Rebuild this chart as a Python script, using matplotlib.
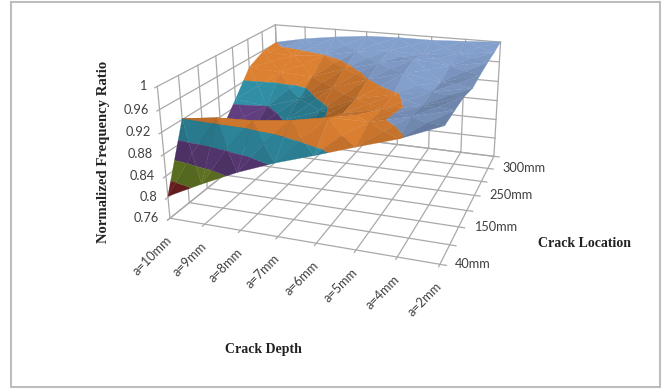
import numpy as np
import matplotlib
matplotlib.use("Agg")
from matplotlib import pyplot as plt
from matplotlib.colors import to_rgb
from matplotlib.patches import Rectangle
from mpl_toolkits.mplot3d import proj3d
from mpl_toolkits.mplot3d.art3d import Poly3DCollection

W, H = 667, 392

depths = ["a=10mm", "a=9mm", "a=8mm", "a=7mm", "a=6mm", "a=5mm", "a=4mm", "a=2mm"]
locations = ["40mm", "", "150mm", "", "250mm", "", "300mm", ""]
z_ticks = [0.76, 0.8, 0.84, 0.88, 0.92, 0.96, 1]
z_labels = ["0.76", "0.8", "0.84", "0.88", "0.92", "0.96", "1"]

# one row per crack location, front to back, columns a=10mm ... a=2mm
row0 = [0.802, 0.835, 0.866, 0.892, 0.914, 0.937, 0.959, 0.988]
row1 = [0.922, 0.931, 0.934, 0.942, 0.955, 0.955, 0.972, 0.990]
row2 = [0.840, 0.850, 0.870, 0.905, 0.940, 0.955, 0.968, 0.991]
row3 = [0.850, 0.862, 0.890, 0.915, 0.945, 0.960, 0.972, 0.985]
row4 = [0.895, 0.888, 0.910, 0.940, 0.962, 0.980, 0.970, 0.990]
row5 = [0.942, 0.938, 0.935, 0.958, 0.975, 0.988, 0.982, 0.994]
row6 = [0.958, 0.955, 0.962, 0.975, 0.983, 0.980, 0.988, 0.996]
row7 = [0.962, 0.975, 0.984, 0.991, 0.993, 0.993, 0.996, 1.000]

band_edges = [0.76, 0.825, 0.857, 0.888, 0.922, 0.962, 1.05]
band_colors = ["#7c2424", "#6c8428", "#5e3c7c", "#2f8aa0", "#d67c30", "#7f9ac6"]

fig = plt.figure(figsize=(W / 100, H / 100), dpi=100)
ax = fig.add_axes([0.2294, 0.1923, 0.5587, 0.9506], projection="3d")
ax.set_xlim(0, 7)
ax.set_ylim(0, 7)
ax.set_zlim(0.76, 1)
ax.view_init(20.294, -69.584, 0.658)
ax.set_proj_type("persp", focal_length=0.399)
ax.set_box_aspect((1.516, 1.449, 0.758))
ax.set_axis_off()
ax.patch.set_alpha(0)
ax.computed_zorder = False
M = ax.get_proj()


def label(x, y, z, s, dx, dy, **kw):
    px, py, _ = proj3d.proj_transform(x, y, z, M)
    ax.annotate(s, xy=(px, py), xytext=(dx * 0.72, dy * 0.72), textcoords="offset points",
                annotation_clip=False, family="Lato", fontsize=9.2, color="#404040", **kw)


# grid
grid = dict(color="#a9a9a9", lw=0.9, zorder=1)
for i in range(8):
    ax.plot([i, i], [-0.12, 7], [0.76, 0.76], **grid)
    ax.plot([0, 7.15], [i, i], [0.76, 0.76], **grid)
    ax.plot([0, 0], [i, i], [0.76, 1], **grid)
    ax.plot([i, i], [7, 7], [0.76, 1], **grid)
    label(i, 0, 0.76, depths[i], 0, -20, rotation=45, ha="right", va="center", rotation_mode="anchor")
    if locations[i]:
        label(7, i, 0.76, locations[i], 15, 0, ha="left", va="center")
for z, lab in zip(z_ticks, z_labels):
    ax.plot([0, 0], [-0.12, 7], [z, z], **grid)
    ax.plot([0, 7], [7, 7], [z, z], **grid)
    label(0, 0, z, lab, -11, 0, ha="right", va="center")

# surface, split into colour bands
Z = np.array([row0, row1, row2, row3, row4, row5, row6, row7])


def clip(poly, lo, hi):
    out = poly
    for sign, lim in ((1, lo), (-1, hi)):
        res = []
        for i in range(len(out)):
            p, q = out[i], out[(i + 1) % len(out)]
            dp, dq = sign * (p[2] - lim), sign * (q[2] - lim)
            if dp >= 0:
                res.append(p)
            if dp * dq < 0:
                res.append(p + (q - p) * dp / (dp - dq))
        out = res
        if not out:
            return []
    return out


light = np.array([0.5, -0.3, 0.81])
polys, colors = [], []
for r in range(7):
    for c in range(7):
        corners = [np.array([cc, rr, Z[rr, cc]]) for cc, rr in
                   ((c, r), (c + 1, r), (c + 1, r + 1), (c, r + 1))]
        mid = np.mean(corners, axis=0)
        for j in range(4):
            tri = (corners[j], corners[(j + 1) % 4], mid)
            n = np.cross((tri[1] - tri[0]) * [1, 1, 22], (tri[2] - tri[0]) * [1, 1, 22])
            n = n / np.linalg.norm(n)
            shade = np.clip(0.44 + 0.8 * n @ light, 0.76, 1.03)
            for k, col in enumerate(band_colors):
                part = clip(list(tri), band_edges[k], band_edges[k + 1])
                if len(part) >= 3:
                    polys.append(part)
                    colors.append(np.clip(np.array(to_rgb(col)) * shade, 0, 1))
ax.add_collection3d(Poly3DCollection(polys, facecolors=colors, edgecolors=colors,
                                     linewidths=0.2, zorder=3))

fig.add_artist(Rectangle((11 / W, 1 - 387 / H), 649 / W, 385 / H, fill=False,
                         ec="#bdbdbd", lw=1.5, transform=fig.transFigure))
title = dict(family="Liberation Serif", weight="bold", color="#222222", ha="center", va="center")
fig.text(103 / W, 1 - 152 / H, "Normalized Frequency Ratio", rotation=90, fontsize=10.6, **title)
fig.text(263 / W, 1 - 349 / H, "Crack Depth", fontsize=10, **title)
fig.text(585 / W, 1 - 243 / H, "Crack Location", fontsize=10, **title)
fig.savefig("out.png", dpi=100)
